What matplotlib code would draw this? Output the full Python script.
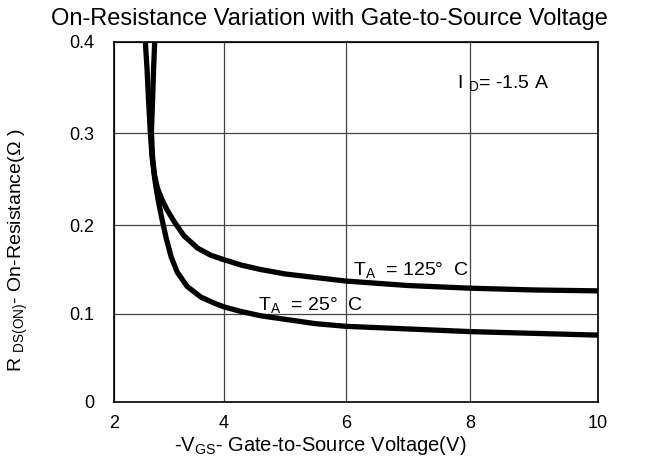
import numpy as np
import matplotlib.pyplot as plt

plt.rcParams['font.family'] = ['Liberation Sans', 'DejaVu Sans']
plt.rcParams['mathtext.fontset'] = 'custom'
plt.rcParams['mathtext.rm'] = 'Liberation Sans'
plt.rcParams['mathtext.it'] = 'Liberation Sans'

# curves: -Vgs (V) and Rds(on) (ohm)
vgs_125 = [2.57, 2.60, 2.63, 2.66, 2.69, 2.73, 2.79, 2.87, 2.96, 3.09, 3.27, 3.52, 3.76, 4.0, 4.28, 4.6,
           5.0, 5.5, 6.0, 7.0, 8.0, 9.0, 10.0]
r_125 = [0.400, 0.371, 0.334, 0.301, 0.275, 0.256, 0.240, 0.228, 0.217, 0.204, 0.188, 0.174, 0.166, 0.161, 0.155, 0.150,
         0.145, 0.141, 0.137, 0.132, 0.129, 0.127, 0.126]

vgs_25 = [2.74, 2.72, 2.70, 2.68, 2.70, 2.74, 2.80, 2.87, 2.95, 3.04, 3.15, 3.33, 3.58, 3.83, 4.0, 4.27, 4.6,
          5.0, 5.5, 6.0, 7.0, 8.0, 9.0, 10.0]
r_25 = [0.400, 0.371, 0.334, 0.301, 0.275, 0.250, 0.228, 0.207, 0.185, 0.164, 0.147, 0.131, 0.119, 0.112, 0.108, 0.103, 0.098,
        0.094, 0.089, 0.086, 0.083, 0.080, 0.078, 0.076]

xticks = [2, 4, 6, 8, 10]
yticks = [0, 0.1, 0.2, 0.3, 0.4]
ytick_labels = ['0', '0.1', '0.2', '0.3', '0.4']

# the scanned grid is not evenly spaced, so use a piecewise scale
x_pos = [0, 110, 232, 356, 484]
y_pos = [0, 88, 177, 269, 360]

def x_fwd(v):
    return np.interp(v, xticks, x_pos)

def x_inv(p):
    return np.interp(p, x_pos, xticks)

def y_fwd(v):
    return np.interp(v, yticks, y_pos)

def y_inv(p):
    return np.interp(p, y_pos, yticks)

fig = plt.figure(figsize=(6.62, 4.59), dpi=100)
ax = fig.add_axes([114 / 662, 1 - 402 / 459, 484 / 662, 360 / 459])
ax.set_xscale('function', functions=(x_fwd, x_inv))
ax.set_yscale('function', functions=(y_fwd, y_inv))

ax.plot(vgs_125, r_125, color='black', lw=3.8, solid_capstyle='round', solid_joinstyle='round')
ax.plot(vgs_25, r_25, color='black', lw=3.8, solid_capstyle='round', solid_joinstyle='round')

ax.set_xlim(2, 10)
ax.set_ylim(0, 0.4)
ax.set_xticks(xticks)
ax.set_xticklabels([str(t) for t in xticks])
ax.set_yticks(yticks)
ax.set_yticklabels(ytick_labels)
ax.minorticks_off()
ax.tick_params(length=0, labelsize=13, pad=9)
ax.tick_params(axis='y', pad=14)
ax.grid(True, color='#444444', lw=0.9)
for s in ax.spines.values():
    s.set_color('black')
    s.set_linewidth(1.2)

fig.text(0.497, 1 - 19 / 459, 'On-Resistance Variation with Gate-to-Source Voltage',
         fontsize=17, ha='center', va='center')
ax.set_xlabel(r'-V$_{\rm GS}$- Gate-to-Source Voltage(V)', fontsize=14.5, va='center')
ax.xaxis.set_label_coords(0.426, -0.12)
ax.set_ylabel(r'R $_{\rm DS(ON)}$- On-Resistance($\Omega$ )', fontsize=14, va='center')
ax.yaxis.set_label_coords(-0.197, 0.42)

ax.text(7.79, 0.355, r'I $_{\rm D}$= -1.5 A', fontsize=14, va='center')
ax.text(6.11, 0.149, r'T$_{\rm A}$  = 125°  C', fontsize=14, va='center')
ax.text(4.56, 0.110, r'T$_{\rm A}$  = 25°  C', fontsize=14, va='center')

fig.savefig('out.png', dpi=100)
